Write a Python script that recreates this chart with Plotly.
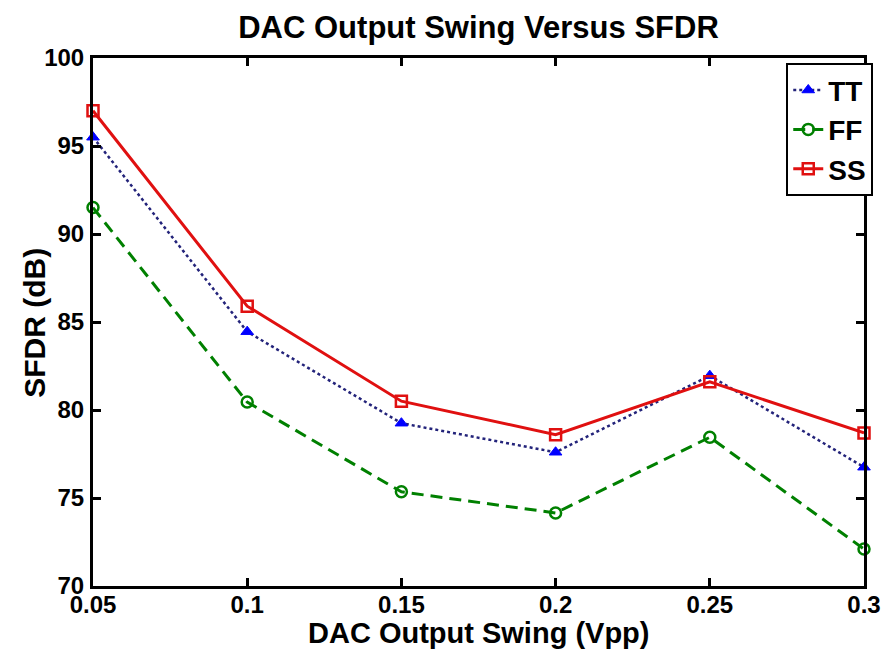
import plotly.graph_objects as go

swing = [0.05, 0.10, 0.15, 0.20, 0.25, 0.30]
tt = [95.5, 84.45, 79.25, 77.6, 81.95, 76.75]
ff = [91.5, 80.45, 75.35, 74.15, 78.45, 72.1]
ss = [97.0, 85.9, 80.5, 78.6, 81.6, 78.7]
xticks = [0.05, 0.1, 0.15, 0.2, 0.25, 0.3]
xtick_text = ["0.05", "0.1", "0.15", "0.2", "0.25", "0.3"]
yticks = [70, 75, 80, 85, 90, 95, 100]
ytick_text = ["70", "75", "80", "85", "90", "95", "100"]

FONT = "Liberation Sans, Arial, sans-serif"

fig = go.Figure()
fig.add_trace(go.Scatter(
    x=swing, y=tt, name="TT", mode="lines+markers",
    line=dict(color="#23237a", width=2.5, dash="dot"),
    marker=dict(symbol="triangle-up", size=11, color="#0000ff",
                line=dict(color="#0000ff", width=1)),
    cliponaxis=False))
fig.add_trace(go.Scatter(
    x=swing, y=ff, name="FF", mode="lines+markers",
    line=dict(color="#008000", width=3, dash="12px,7px"),
    marker=dict(symbol="circle-open", size=11, color="#008000",
                line=dict(color="#008000", width=2.5)),
    cliponaxis=False))
fig.add_trace(go.Scatter(
    x=swing, y=ss, name="SS", mode="lines+markers",
    line=dict(color="#e01010", width=3),
    marker=dict(symbol="square-open", size=11, color="#e01010",
                line=dict(color="#e01010", width=2.5)),
    cliponaxis=False))

axis_common = dict(
    showline=True, linecolor="black", linewidth=3, mirror="ticks",
    ticks="inside", ticklen=8, tickwidth=3, tickcolor="black",
    showgrid=False, zeroline=False,
    tickfont=dict(family=FONT, size=24, color="black", weight="bold"),
)

fig.update_layout(
    width=893, height=649,
    margin=dict(l=93, r=18, t=58, b=63),
    paper_bgcolor="white", plot_bgcolor="white",
    showlegend=True,
    title=dict(text="DAC Output Swing Versus SFDR", x=0.5, xref="paper",
               xanchor="center", y=1 - 27 / 649, yref="container", yanchor="middle",
               font=dict(family=FONT, size=31, color="black", weight="bold")),
    xaxis=dict(range=[0.05, 0.3], tickvals=xticks, ticktext=xtick_text,
               ticklabelstandoff=-5, **axis_common),
    yaxis=dict(range=[70, 100], tickvals=yticks, ticktext=ytick_text,
               ticklabelstandoff=1, **axis_common),
    legend=dict(x=1.012, y=0.99, xanchor="right", yanchor="top",
                bgcolor="white", bordercolor="black", borderwidth=2,
                font=dict(family=FONT, size=28, color="black", weight="bold"),
                itemwidth=30, tracegroupgap=0),
    annotations=[
        dict(text="DAC Output Swing (Vpp)", xref="paper", yref="paper",
             x=0.5, y=-(633 - 586) / 528, xanchor="center", yanchor="middle",
             showarrow=False,
             font=dict(family=FONT, size=29, color="black", weight="bold")),
        dict(text="SFDR (dB)", xref="paper", yref="paper",
             x=-(93 - 33) / 782, y=1 - (323 - 58) / 528, xanchor="center", yanchor="middle",
             textangle=-90, showarrow=False,
             font=dict(family=FONT, size=30, color="black", weight="bold")),
    ],
)

fig.write_html("out.html")
